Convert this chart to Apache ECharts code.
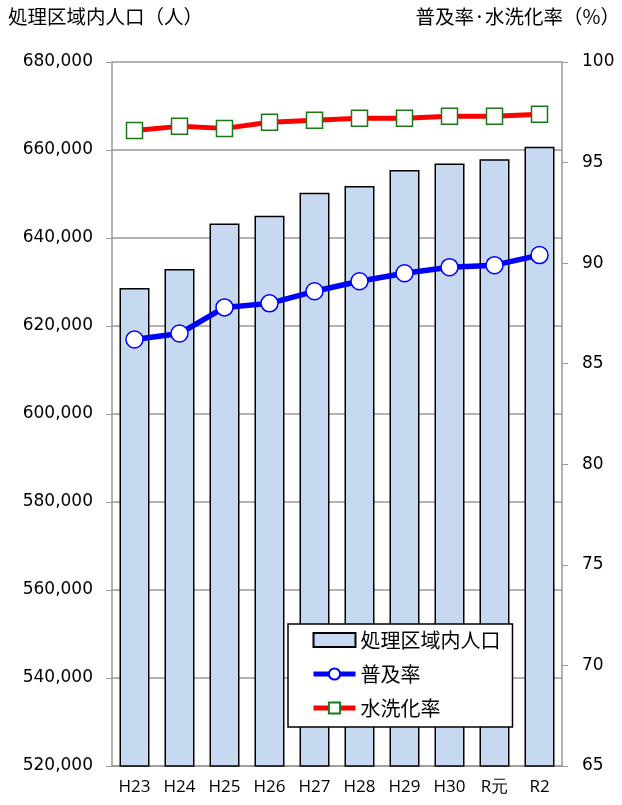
<!DOCTYPE html>
<html>
<head>
<meta charset="utf-8">
<script src="https://cdn.jsdelivr.net/npm/echarts@6/dist/echarts.min.js"></script>
<style>
  html, body { margin: 0; padding: 0; background: #fff; }
  #chart { width: 622px; height: 805px; }
</style>
</head>
<body>
<div id="chart"></div>
<script>
// 年度
const years = ['H23', 'H24', 'H25', 'H26', 'H27', 'H28', 'H29', 'H30', 'R元', 'R2']
// 処理区域内人口（人）
const population = [628650, 632980, 643300, 645050, 650300, 651800, 655450, 656950, 657900, 660750]
// 普及率（%）
const fukyuRate = [86.2, 86.5, 87.8, 88.0, 88.6, 89.1, 89.5, 89.8, 89.9, 90.4]
// 水洗化率（%）
const suisenRate = [96.6, 96.8, 96.7, 97.0, 97.1, 97.2, 97.2, 97.3, 97.3, 97.4]

const cjk = '"Noto Sans CJK JP", sans-serif'
const num = '"DejaVu Sans", sans-serif'

const chart = echarts.init(document.getElementById('chart'))
const option = {
  animation: false,
  backgroundColor: '#fff',
  graphic: [
    {
      type: 'text', left: 8, top: 7,
      style: { text: '処理区域内人口（人）', font: '19.5px ' + cjk, fill: '#000' },
    },
    {
      type: 'text', right: 2, top: 7,
      style: { text: '普及率·水洗化率（%）', font: '19.5px ' + cjk, fill: '#000' },
    },
  ],
  grid: { left: 112, right: 60, top: 62, bottom: 39 },
  legend: {
    orient: 'vertical',
    left: 288,
    top: 624,
    padding: [6, 12, 9, 23],
    itemGap: 14,
    itemWidth: 42,
    itemHeight: 14,
    backgroundColor: '#fff',
    borderColor: '#000',
    borderWidth: 1.5,
    borderRadius: 0,
    lineStyle: { width: 5 },
    textStyle: { fontFamily: cjk, fontSize: 20, color: '#000' },
    data: [
      { name: '処理区域内人口', icon: 'rect' },
      '普及率',
      '水洗化率',
    ],
  },
  xAxis: {
    type: 'category',
    data: years,
    axisLine: { lineStyle: { color: '#999', width: 1.5 } },
    axisTick: { length: 6, lineStyle: { color: '#999' } },
    axisLabel: { margin: 13, fontFamily: '"Open Sans", sans-serif', fontSize: 17, color: '#000' },
  },
  yAxis: [
    {
      type: 'value',
      min: 520000,
      max: 680000,
      interval: 20000,
      axisLine: { show: true, lineStyle: { color: '#999', width: 1.5 } },
      axisTick: { show: true, length: 6, lineStyle: { color: '#999' } },
      splitLine: { lineStyle: { color: '#999', width: 1.5 } },
      axisLabel: {
        margin: 19,
        fontFamily: num,
        fontSize: 17,
        color: '#000',
        formatter: v => v.toLocaleString('en-US'),
      },
    },
    {
      type: 'value',
      min: 65,
      max: 100,
      interval: 5,
      axisLine: { show: true, lineStyle: { color: '#999', width: 1.5 } },
      axisTick: { show: true, length: 6, lineStyle: { color: '#999' } },
      splitLine: { show: false },
      axisLabel: { margin: 20, fontFamily: num, fontSize: 17, color: '#000' },
    },
  ],
  series: [
    {
      name: '処理区域内人口',
      type: 'bar',
      data: population,
      barWidth: 30,
      itemStyle: { color: '#c6d9f1', borderColor: '#000', borderWidth: 1.5 },
    },
    {
      name: '普及率',
      type: 'line',
      yAxisIndex: 1,
      data: fukyuRate,
      symbol: 'circle',
      symbolSize: 17,
      lineStyle: { color: '#0000ff', width: 5.5 },
      itemStyle: { color: '#fff', borderColor: '#0000ff', borderWidth: 1.5 },
    },
    {
      name: '水洗化率',
      type: 'line',
      yAxisIndex: 1,
      data: suisenRate,
      symbol: 'rect',
      symbolSize: 16,
      lineStyle: { color: '#ff0000', width: 5 },
      itemStyle: { color: '#fff', borderColor: '#1a7a1a', borderWidth: 1.5 },
    },
  ],
}
chart.setOption(option)
</script>
</body>
</html>
